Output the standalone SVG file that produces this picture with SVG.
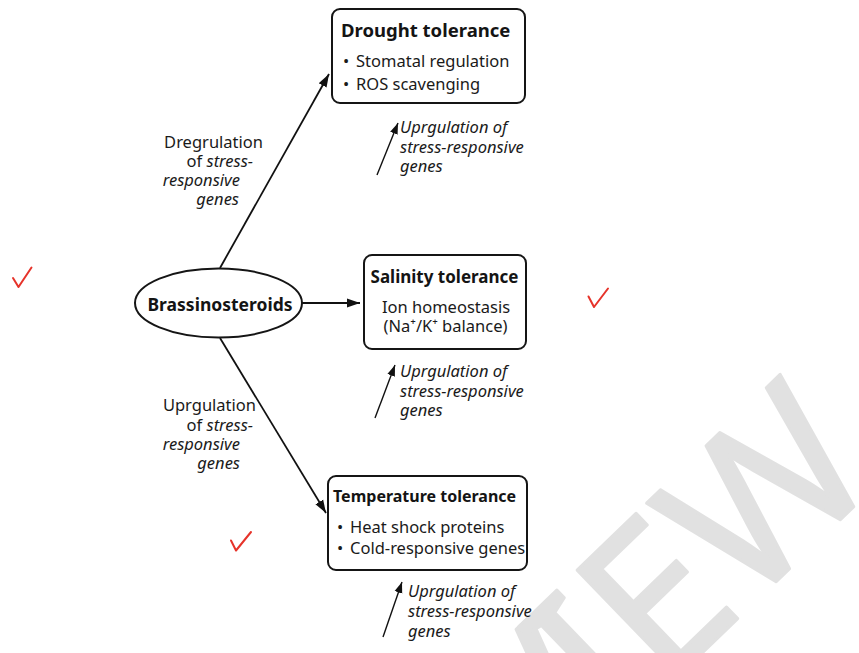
<svg xmlns="http://www.w3.org/2000/svg" width="859" height="653" viewBox="0 0 859 653">
<style>
.box{fill:#fff;stroke:#151515;stroke-width:2}
.ell{fill:#fff;stroke:#151515;stroke-width:2}
.b{font-family:"Noto Sans","Open Sans",sans-serif;font-weight:700;fill:#141414}
.r{font-family:"Noto Sans","Open Sans",sans-serif;font-size:16.5px;fill:#1a1a1a}
.i{font-style:italic}
.e{text-anchor:end}
.m{text-anchor:middle}
.ln{stroke:#111;stroke-width:1.8;fill:none}
.sm{stroke:#111;stroke-width:1.4;fill:none}
.chk{stroke:#e6332a;stroke-width:2;fill:none;stroke-linecap:round;stroke-linejoin:round}
.wm{font-family:"Noto Sans","Open Sans",sans-serif;font-size:205px;fill:#e1e1e1;stroke:#e1e1e1;stroke-width:3;stroke-linejoin:round}
</style>
<defs>
<marker id="ah" markerUnits="userSpaceOnUse" markerWidth="14" markerHeight="10" refX="13" refY="5" orient="auto"><path d="M0,0.5 L13,5 L0,9.5 z" fill="#111"/></marker>
<marker id="ahs" markerUnits="userSpaceOnUse" markerWidth="12" markerHeight="9" refX="11" refY="4.5" orient="auto"><path d="M0,0.5 L11,4.5 L0,8.5 z" fill="#111"/></marker>
</defs>
<rect width="859" height="653" fill="#fff"/>
<text class="wm" x="263" y="1077" transform="rotate(-44 263 1077)"><tspan dx="24">PREV</tspan><tspan dx="-24">IEW</tspan></text>

<g id="connectors">
<line class="ln" x1="220" y1="268" x2="329" y2="74" marker-end="url(#ah)"/>
<line class="ln" x1="302" y1="303" x2="360" y2="303" marker-end="url(#ah)"/>
<line class="ln" x1="220" y1="338" x2="326" y2="513" marker-end="url(#ah)"/>
<line class="sm" x1="377" y1="175" x2="398" y2="123" marker-end="url(#ahs)"/>
<line class="sm" x1="375" y1="418" x2="395" y2="365" marker-end="url(#ahs)"/>
<line class="sm" x1="383" y1="637" x2="402" y2="582" marker-end="url(#ahs)"/>
</g>

<g id="brassinosteroids">
<ellipse class="ell" cx="218.5" cy="303" rx="83.5" ry="34.5"/>
<text class="b m" x="220" y="311" font-size="17.5">Brassinosteroids</text>
</g>

<g id="drought">
<rect class="box" x="332" y="9" width="193" height="94" rx="8"/>
<text class="b" x="341" y="37" font-size="18.5">Drought tolerance</text>
<text class="r"><tspan x="343" y="67">•</tspan><tspan x="356" y="67">Stomatal regulation</tspan></text>
<text class="r"><tspan x="343" y="90">•</tspan><tspan x="356" y="90">ROS scavenging</tspan></text>
</g>

<g id="salinity">
<rect class="box" x="364" y="255" width="162" height="94" rx="8"/>
<text class="b m" x="444.5" y="283" font-size="17">Salinity tolerance</text>
<text class="r m" x="446" y="313">Ion homeostasis</text>
<text class="r m" x="445.5" y="332">(Na⁺/K⁺ balance)</text>
</g>

<g id="temperature">
<rect class="box" x="328" y="476" width="199" height="94" rx="8"/>
<text class="b" x="333" y="502" font-size="16">Temperature tolerance</text>
<text class="r"><tspan x="337" y="533">•</tspan><tspan x="350" y="533">Heat shock proteins</tspan></text>
<text class="r"><tspan x="337" y="554">•</tspan><tspan x="350" y="554">Cold-responsive genes</tspan></text>
</g>

<g id="label-top-left">
<text class="r e" x="263" y="148">Dregrulation</text>
<text class="r e" x="253" y="167">of <tspan class="i">stress-</tspan></text>
<text class="r e i" x="240" y="186">responsive</text>
<text class="r e i" x="239" y="205">genes</text>
</g>

<g id="label-bottom-left">
<text class="r e" x="256" y="411">Uprgulation</text>
<text class="r e" x="253" y="431">of <tspan class="i">stress-</tspan></text>
<text class="r e i" x="240" y="450">responsive</text>
<text class="r e i" x="240" y="469">genes</text>
</g>

<g id="label-drought">
<text class="r i" x="400" y="133">Uprgulation of</text>
<text class="r i" x="400" y="153">stress-responsive</text>
<text class="r i" x="400" y="172">genes</text>
</g>

<g id="label-salinity">
<text class="r i" x="400" y="377">Uprgulation of</text>
<text class="r i" x="400" y="397">stress-responsive</text>
<text class="r i" x="400" y="416">genes</text>
</g>

<g id="label-temperature">
<text class="r i" x="408" y="597">Uprgulation of</text>
<text class="r i" x="408" y="617">stress-responsive</text>
<text class="r i" x="408" y="637">genes</text>
</g>

<g id="checks">
<polyline class="chk" points="13,278 18.5,287 31.5,267.5"/>
<polyline class="chk" points="588.5,296.5 594,307 608,288.5"/>
<polyline class="chk" points="231,540.5 236,550.5 251,532"/>
</g>
</svg>
